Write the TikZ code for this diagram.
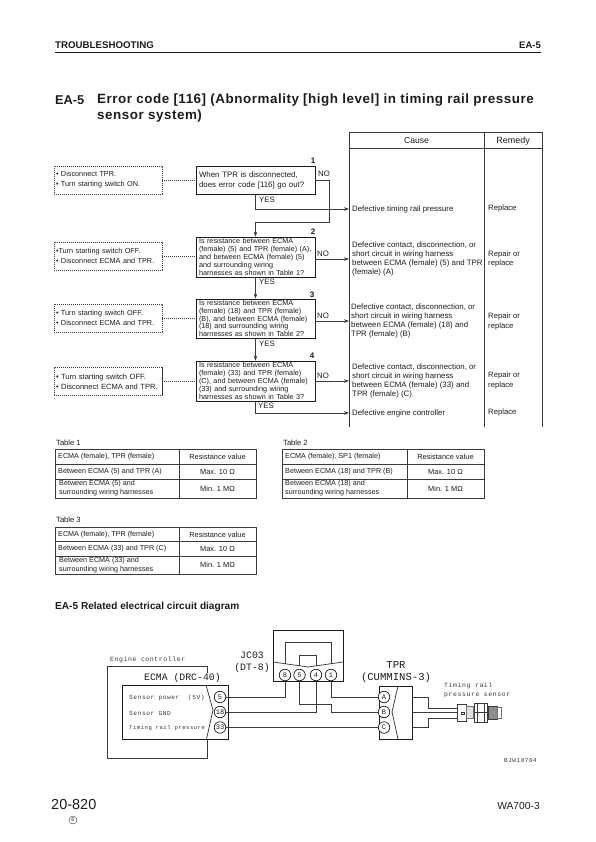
\documentclass[tikz,border=0pt]{standalone}
\usepackage{fontspec}
\usetikzlibrary{arrows.meta,calc,positioning}
\setmainfont{Liberation Sans}
\newfontfamily\wirefont[LetterSpace=9]{Liberation Mono}
\newfontfamily\bigwirefont{Liberation Mono}
\newfontfamily\titlefont[LetterSpace=4]{Liberation Sans}
\definecolor{Ink}{HTML}{1C1C1C}
\definecolor{Wire}{HTML}{3A3A3A}
\begin{document}
\begin{tikzpicture}[x=1pt,y=-1pt,inner sep=0pt,text=Ink,
      body/.style={font=\fontsize{7.85}{9.3}\selectfont,align=left,anchor=west},
      fixtxt/.style={font=\fontsize{7.7}{9.3}\selectfont,align=left,anchor=west},
      flow/.style={-{Stealth[length=5pt,width=3.6pt]},draw=Wire,line width=0.7pt},
      question/.style={draw=Ink,line width=0.8pt,minimum width=119pt,text width=113pt,
                       inner xsep=3pt,align=left,font=\fontsize{7.25}{7.8}\selectfont},
      check/.style={draw=Wire,line width=0.6pt,dash pattern=on 1.1pt off 0.9pt,
                    minimum width=108pt,minimum height=28pt,text width=104pt,inner xsep=2pt,
                    align=left,font=\fontsize{7.3}{10}\selectfont},
      link/.style={draw=Wire,line width=0.6pt,dash pattern=on 1.1pt off 0.9pt},
      answer/.style={font=\fontsize{7.8}{9}\selectfont},
      stepno/.style={font=\bfseries\fontsize{8}{9}\selectfont},
      cellbox/.style={draw=Wire,line width=0.7pt,minimum width=124pt},
      cellval/.style={draw=Wire,line width=0.7pt,align=center,minimum width=77pt,
                      font=\fontsize{7.4}{8}\selectfont},
      celltxt/.style={font=\fontsize{7.2}{9}\selectfont,align=left,anchor=west},
      tabname/.style={anchor=west,font=\fontsize{7.6}{8}\selectfont},
      wire/.style={draw=Wire,line width=0.75pt},
      pin/.style={circle,draw=Ink,line width=0.7pt,fill=white,minimum size=11.5pt,
                  font=\bigwirefont\fontsize{7}{7}\selectfont},
      wiretxt/.style={font=\wirefont\fontsize{6.5}{7}\selectfont,text=Wire,anchor=west},
      bigwire/.style={font=\bigwirefont\fontsize{9.8}{12}\selectfont,align=center}]
    \useasboundingbox (0,0) rectangle (595,842);
    % page head
    \node[anchor=west,font=\bfseries\fontsize{9.7}{11}\selectfont] (head) at (55,45) {TROUBLESHOOTING};
    \node[anchor=east,font=\bfseries\fontsize{9.5}{11}\selectfont] (headno) at (541,45) {EA-5};
    \draw[Ink,line width=1pt] (55,52.5) -- (541,52.5);
    \node[anchor=west,font=\bfseries\fontsize{12.8}{16}\selectfont] (titleno) at (55,100) {EA-5};
    \node[anchor=west,align=left,font=\titlefont\bfseries\fontsize{13.4}{16}\selectfont] (title) at (97,108)
      {Error code [116] (Abnormality [high level] in timing rail pressure\\sensor system)};
    % cause and remedy columns
    \draw[Wire,line width=0.8pt] (349,427) -- (349,132) -- (542,132) -- (542,427);
    \draw[Wire,line width=0.8pt] (349,148) -- (542,148);
    \draw[Wire,line width=0.8pt] (484,132) -- (484,427);
    \node[font=\fontsize{8.6}{9}\selectfont] (cause) at (416.5,141) {Cause};
    \node[font=\fontsize{9}{9}\selectfont] (remedy) at (513,141) {Remedy};
    \coordinate (c1) at (349,209);
    \coordinate (c2) at (349,259);
    \coordinate (c3) at (349,321);
    \coordinate (c4) at (349,381);
    \coordinate (c5) at (349,413);
    \node[body] (cause1) at (352,209) {Defective timing rail pressure};
    \node[body] (cause2) at (352,259) {Defective contact, disconnection, or\\short circuit in wiring harness\\between ECMA (female) (5) and TPR\\(female) (A)};
    \node[body] (cause3) at (351,321) {Defective contact, disconnection, or\\short circuit in wiring harness\\between ECMA (female) (18) and\\TPR (female) (B)};
    \node[body] (cause4) at (352,381) {Defective contact, disconnection, or\\short circuit in wiring harness\\between ECMA (female) (33) and\\TPR (female) (C)};
    \node[body] (cause5) at (352,413) {Defective engine controller};
    \node[fixtxt] (fix1) at (488,209) {Replace};
    \node[fixtxt] (fix2) at (488,259) {Repair or\\replace};
    \node[fixtxt] (fix3) at (488,321.5) {Repair or\\replace};
    \node[fixtxt] (fix4) at (488,380.5) {Repair or\\replace};
    \node[fixtxt] (fix5) at (488,413) {Replace};
    % flow chart
    \node[question,minimum height=28pt,font=\fontsize{7.9}{10}\selectfont] (q1) at (255.5,180)
      {When TPR is disconnected,\\does error code [116] go out?};
    \node[question,minimum height=40pt] (q2) at (255.5,257)
      {Is resistance between ECMA\\(female) (5) and TPR (female) (A),\\and between ECMA (female) (5)\\and surrounding wiring\\harnesses as shown in Table 1?};
    \node[question,minimum height=39pt] (q3) at (255.5,318.5)
      {Is resistance between ECMA\\(female) (18) and TPR (female)\\(B), and between ECMA (female)\\(18) and surrounding wiring\\harnesses as shown in Table 2?};
    \node[question,minimum height=40pt] (q4) at (255.5,381)
      {Is resistance between ECMA\\(female) (33) and TPR (female)\\(C), and between ECMA (female)\\(33) and surrounding wiring\\harnesses as shown in Table 3?};
    \node[check] (d1) at (108,180) {• Disconnect TPR.\\• Turn starting switch ON.};
    \node[check] (d2) at (108,256) {•Turn starting switch OFF.\\• Disconnect ECMA and TPR.};
    \node[check] (d3) at (108,318) {• Turn starting switch OFF.\\• Disconnect ECMA and TPR.};
    \node[check,font=\fontsize{7.55}{10}\selectfont] (d4) at (108,381.5) {• Turn starting switch OFF.\\• Disconnect ECMA and TPR.};
    \draw[link] (d1) -- (q1);
    \draw[link] (d2.east) -- (d2.east -| q2.west);
    \draw[link] (d3) -- (q3.west |- d3);
    \draw[link] (d4) -- (q4.west |- d4);
    \coordinate (turn1) at (329,222);
    \draw[flow] (q1.east) -| (turn1) -| (q2.north);
    \draw[flow] (q1.south) |- (c1);
    \draw[flow] (q2.east |- c2) -- (c2);
    \draw[flow] (q2.south) -- (q3.north);
    \draw[flow] (q3.east |- c3) -- (c3);
    \draw[flow] (q3.south) -- (q4.north);
    \draw[flow] (q4.east) -- (c4);
    \draw[flow] (q4.south) |- (c5);
    \node[stepno] (n1) at (313,161) {1};
    \node[stepno] (n2) at (313,232) {2};
    \node[stepno] (n3) at (312,295) {3};
    \node[stepno] (n4) at (312,356) {4};
    \node[answer] (no1) at (324,174) {NO};
    \node[answer] (no2) at (323,254) {NO};
    \node[answer] (no3) at (323,316) {NO};
    \node[answer] (no4) at (323,376) {NO};
    \node[answer] (yes1) at (267,200) {YES};
    \node[answer] (yes2) at (267,282) {YES};
    \node[answer] (yes3) at (267,344) {YES};
    \node[answer] (yes4) at (266,406) {YES};
    % tables
    \node[tabname] (tab1) at (56,443) {Table 1};
    \node[cellbox,minimum height=15pt] (t1a) at (117,456.5) {};
    \node[cellbox,minimum height=15pt] (t1b) at (117,471.5) {};
    \node[cellbox,minimum height=19pt] (t1c) at (117,488.5) {};
    \node[cellval,minimum height=15pt] (t1d) at (217.5,456.5) {Resistance value};
    \node[cellval,minimum height=15pt] (t1e) at (217.5,471.5) {Max. 10 Ω};
    \node[cellval,minimum height=19pt] (t1f) at (217.5,488.5) {Min. 1 MΩ};
    \node[celltxt] (t1g) at (58,456.5) {ECMA (female), TPR (female)};
    \node[celltxt] (t1h) at (58,471.5) {Between ECMA (5) and TPR (A)};
    \node[celltxt] (t1i) at (59,488.5) {Between ECMA (5) and\\surrounding wiring harnesses};
    \node[tabname] (tab2) at (283,443) {Table 2};
    \node[cellbox,minimum width=125pt,minimum height=15pt] (t2a) at (344.5,456.5) {};
    \node[cellbox,minimum width=125pt,minimum height=15pt] (t2b) at (344.5,471.5) {};
    \node[cellbox,minimum width=125pt,minimum height=19pt] (t2c) at (344.5,488.5) {};
    \node[cellval,minimum height=15pt] (t2d) at (445.5,456.5) {Resistance value};
    \node[cellval,minimum height=15pt] (t2e) at (445.5,471.5) {Max. 10 Ω};
    \node[cellval,minimum height=19pt] (t2f) at (445.5,488.5) {Min. 1 MΩ};
    \node[celltxt] (t2g) at (285,456.5) {ECMA (female), SP1 (female)};
    \node[celltxt] (t2h) at (285,471.5) {Between ECMA (18) and TPR (B)};
    \node[celltxt] (t2i) at (285,488.5) {Between ECMA (18) and\\surrounding wiring harnesses};
    \node[tabname] (tab3) at (56,520) {Table 3};
    \node[cellbox,minimum height=14.5pt] (t3a) at (117,534.5) {};
    \node[cellbox,minimum height=15pt] (t3b) at (117,549) {};
    \node[cellbox,minimum height=18pt] (t3c) at (117,565) {};
    \node[cellval,minimum height=14.5pt] (t3d) at (217.5,534.5) {Resistance value};
    \node[cellval,minimum height=15pt] (t3e) at (217.5,549) {Max. 10 Ω};
    \node[cellval,minimum height=18pt] (t3f) at (217.5,565) {Min. 1 MΩ};
    \node[celltxt] (t3g) at (58,534.5) {ECMA (female), TPR (female)};
    \node[celltxt] (t3h) at (58,549) {Between ECMA (33) and TPR (C)};
    \node[celltxt] (t3i) at (59,565) {Between ECMA (33) and\\surrounding wiring harnesses};
    % circuit
    \node[anchor=west,font=\bfseries\fontsize{10.1}{11}\selectfont] (circuit) at (55,607) {EA-5 Related electrical circuit diagram};
    \node[wiretxt] (ctrl) at (110,660) {Engine controller};
    \draw[wire] (207,673) -- (207,666) -- (107,666) -- (107,758) -- (207,758) -- (207,739);
    \node[draw=Ink,line width=0.7pt,minimum width=106pt,minimum height=54pt] (ecma) at (175,712) {};
    \draw[wire] (206,685) -- (213,710) -- (206.5,739);
    \node[bigwire,anchor=west] (ecmalab) at (144,678) {ECMA (DRC-40)};
    \node[wiretxt,font=\wirefont\fontsize{6.2}{7}\selectfont] (sig1) at (129,698) {Sensor power\ \ (5V)};
    \node[wiretxt,font=\wirefont\fontsize{6.2}{7}\selectfont] (sig2) at (129,713) {Sensor GND};
    \node[wiretxt,font=\wirefont\fontsize{5.6}{7}\selectfont] (sig3) at (129,728) {Timing rail pressure};
    \node[pin] (e5) at (220,697) {5};
    \node[pin] (e18) at (220,712) {18};
    \node[pin] (e33) at (220,727.5) {33};
    \node[bigwire] (jclab) at (252,662) {JC03\\(DT-8)};
    \draw[Ink,line width=0.7pt] (273,630) rectangle (343,681);
    \draw[wire] (273,662) -- (308,667) -- (343,662);
    \draw[wire] (285,663.5) -- (285,642.5) -- (331,642.5) -- (331,663.5);
    \draw[wire] (299.5,665.5) -- (299.5,655) -- (316,655) -- (316,665.5);
    \node[pin] (j8) at (285,675) {8};
    \node[pin] (j5) at (299.5,675) {5};
    \node[pin] (j4) at (316,675) {4};
    \node[pin] (j1) at (331,675) {1};
    \node[bigwire,font=\bigwirefont\fontsize{10.6}{12}\selectfont] (tprlab) at (396,672) {TPR\\(CUMMINS-3)};
    \node[draw=Ink,line width=0.7pt,minimum width=33pt,minimum height=53pt] (tpr) at (395.5,712.5) {};
    \draw[wire] (398,686) -- (392,712) -- (398,739);
    \node[pin] (pa) at (384,697) {A};
    \node[pin] (pb) at (384,712) {B};
    \node[pin] (pc) at (384,727.5) {C};
    \coordinate (kink) at (331,704);
    \draw[wire] (e5) -| (j8);
    \draw[wire] (e18) -| (j4);
    \draw[wire] (e33) -- (pc);
    \draw[wire] (j1) |- (pa);
    \draw[wire] (j5) |- (kink) |- (pb);
    % sensor
    \node[wiretxt,align=left,font=\wirefont\fontsize{6.5}{9}\selectfont] (senlab) at (444,690.5) {Timing rail\\pressure sensor};
    \node[draw=Wire,line width=0.6pt,minimum width=9pt,minimum height=17pt] (s1) at (461.5,712.5) {};
    \node[draw=Wire!70,line width=0.6pt,fill=black!12,minimum width=7pt,minimum height=12pt,right=0pt of s1] (s2) {};
    \node[draw=Wire,line width=0.6pt,minimum width=13pt,minimum height=19pt,right=0pt of s2] (s3) {};
    \node[draw=Wire,line width=0.6pt,fill=black!45,minimum width=9pt,minimum height=13pt,right=0pt of s3] (s4) {};
    \node[draw=Wire!70,line width=0.6pt,minimum width=4pt,minimum height=11pt,right=0pt of s4] (s5) {};
    \draw[wire] (s3.north west) ++(3,0) -- ++(0,19);
    \draw[wire] (s3.north east) ++(-3,0) -- ++(0,19);
    \draw[wire] (s3.west) -- (s3.east);
    \draw[wire] (412,697) -- (428,697) -- (428,708) -- (s1.west |- 0,708);
    \draw[wire] (412,712) -- (s1.west |- 0,712);
    \draw[wire] (412,727.5) -- (428,727.5) -- (428,718) -- (s1.west |- 0,718);
    \draw[wire,line width=0.5pt] (s1.center) rectangle ++(3,2);
    \node[anchor=west,font=\wirefont\fontsize{6}{7}\selectfont,text=Wire] (figno) at (504,761) {BJW10704};
    % page foot
    \node[anchor=west,font=\fontsize{14.5}{16}\selectfont] (page) at (51,804) {20-820};
    \node[circle,draw=Wire,line width=0.4pt,minimum size=8pt,font=\fontsize{5.5}{6}\selectfont] (rev) at (73,820) {6};
    \node[anchor=east,font=\fontsize{10.3}{12}\selectfont] (model) at (540,806) {WA700-3};
  \end{tikzpicture}
\end{document}
